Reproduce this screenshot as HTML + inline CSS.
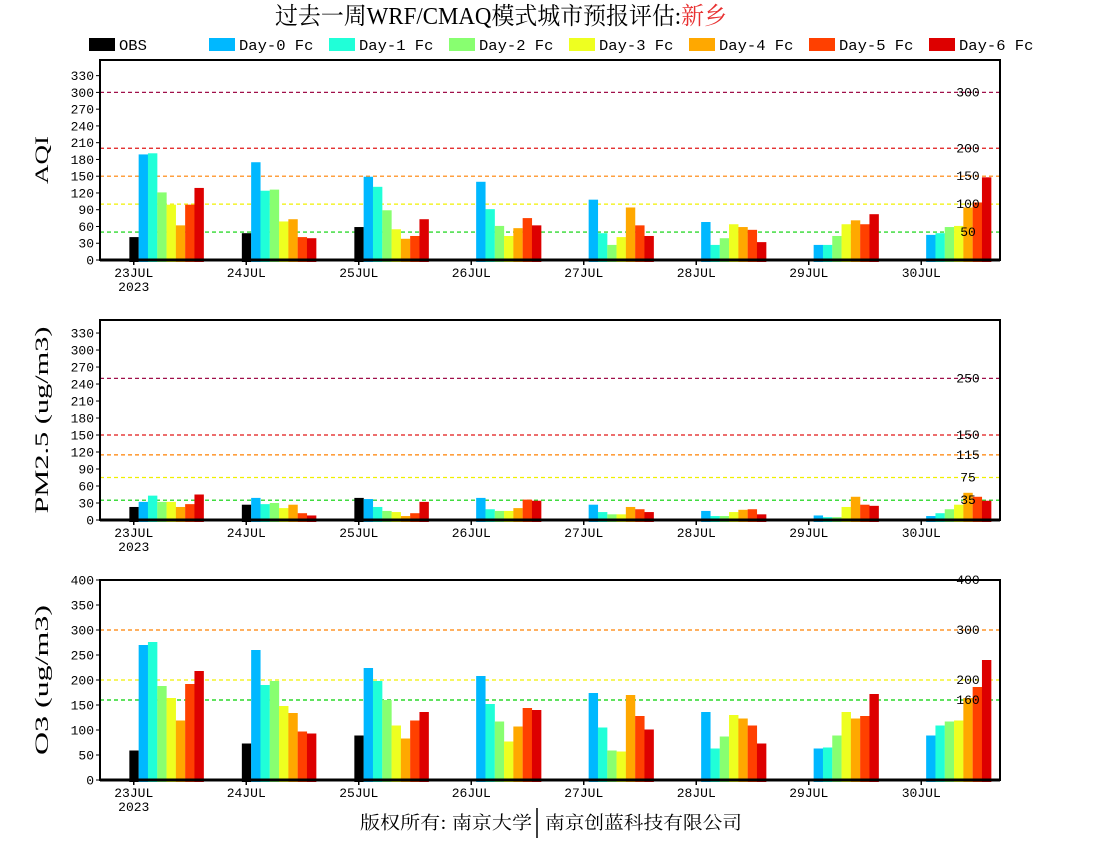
<!DOCTYPE html>
<html><head><meta charset="utf-8"><style>
body{margin:0;background:#fff;}
svg{display:block;}
text{font-family:"Liberation Mono","DejaVu Sans Mono",monospace;}
</style></head><body>
<svg id="c" width="1100" height="850" xmlns="http://www.w3.org/2000/svg">
<text x="275" y="24" font-size="24" textLength="452" lengthAdjust="spacingAndGlyphs" style="font-family:'Liberation Serif','Noto Serif CJK SC',serif">过去一周WRF/CMAQ模式城市预报评估:<tspan fill="#e83030">新乡</tspan></text>
<g id="legend"></g>
<g id="panels"></g>
<text x="360" y="829" font-size="18" textLength="172" lengthAdjust="spacingAndGlyphs" style="font-family:'Noto Serif CJK SC',serif">版权所有: 南京大学</text>
<line x1="537" y1="808" x2="537" y2="838" stroke="#000" stroke-width="1.5"/>
<text x="545" y="829" font-size="18" textLength="197" lengthAdjust="spacingAndGlyphs" style="font-family:'Noto Serif CJK SC',serif">南京创蓝科技有限公司</text>
</svg>
<script>
const days = ["23JUL","24JUL","25JUL","26JUL","27JUL","28JUL","29JUL","30JUL"];
const seriesNames = ["OBS","Day-0 Fc","Day-1 Fc","Day-2 Fc","Day-3 Fc","Day-4 Fc","Day-5 Fc","Day-6 Fc"];
const seriesColors = ["#000000","#00b8ff","#20ffd8","#88ff70","#eeff20","#ffa800","#ff4000","#dd0000"];
const aqiObs  = [41,48,59,null,null,null,null,null];
const aqiD0 = [189,175,149,140,108,68,27,45];
const aqiD1 = [191,124,131,91,48,27,27,48];
const aqiD2 = [121,126,89,61,27,39,43,59];
const aqiD3 = [99,69,55,43,41,64,64,61];
const aqiD4 = [62,73,38,57,94,59,71,94];
const aqiD5 = [99,41,43,75,62,54,64,103];
const aqiD6 = [129,39,73,62,43,32,82,148];
const pmObs = [23,27,39,null,null,null,null,null];
const pmD0 = [32,39,37,39,27,16,8,7];
const pmD1 = [43,28,23,19,14,7,5,12];
const pmD2 = [32,30,16,16,10,7,5,19];
const pmD3 = [32,21,14,16,10,14,23,27];
const pmD4 = [23,27,7,21,23,18,41,48];
const pmD5 = [28,12,12,36,19,19,27,41];
const pmD6 = [45,8,32,34,14,10,25,34];
const o3Obs = [59,73,89,null,null,null,null,null];
const o3D0 = [270,260,224,208,174,136,63,89];
const o3D1 = [276,190,198,152,105,63,65,109];
const o3D2 = [188,198,160,117,59,87,89,117];
const o3D3 = [164,148,109,77,57,130,136,119];
const o3D4 = [119,134,83,107,170,123,123,164];
const o3D5 = [192,97,119,144,128,109,128,186];
const o3D6 = [218,93,136,140,101,73,172,240];
const aqiTicks = [0,30,60,90,120,150,180,210,240,270,300,330];
const pmTicks = [0,30,60,90,120,150,180,210,240,270,300,330];
const o3Ticks = [0,50,100,150,200,250,300,350,400];
const aqiRefs = [300,200,150,100,50];
const pmRefs = [250,150,115,75,35];
const o3Refs = [400,300,200,160];
const refColors = ["#a0104a","#e01818","#ff8000","#f0f000","#00d000"];
const o3RefColors = ["#e01818","#ff8000","#f0f000","#00d000"];

const NS="http://www.w3.org/2000/svg";
function mk(tag,attrs,parent){const e=document.createElementNS(NS,tag);for(const k in attrs)e.setAttribute(k,attrs[k]);parent.appendChild(e);return e;}
const root=document.getElementById('panels');
const L=100,R=1000;
function xDay(i){return L+(R-L)/8*(i+0.3);}

const panels=[
 {name:"aqi",title:"AQI",tl:48,top:60,bot:260,max:358,ticks:aqiTicks,refs:aqiRefs,rc:refColors,data:[aqiObs,aqiD0,aqiD1,aqiD2,aqiD3,aqiD4,aqiD5,aqiD6]},
 {name:"pm25",title:"PM2.5 (ug/m3)",tl:187,top:320,bot:520,max:353,ticks:pmTicks,refs:pmRefs,rc:refColors,data:[pmObs,pmD0,pmD1,pmD2,pmD3,pmD4,pmD5,pmD6]},
 {name:"o3",title:"O3 (ug/m3)",tl:150,top:580,bot:780,max:400,ticks:o3Ticks,refs:o3Refs,rc:o3RefColors,data:[o3Obs,o3D0,o3D1,o3D2,o3D3,o3D4,o3D5,o3D6]}
];

const lg=document.getElementById('legend');
seriesNames.forEach((n,i)=>{
  const x=89+i*120;
  const r=mk('rect',{x:x,y:38,width:26,height:13,fill:seriesColors[i]},lg);
  
  
  const t=mk('text',{x:x+30,y:50,'font-size':15,textLength:(n.length*9.3),lengthAdjust:'spacingAndGlyphs'},lg);
  t.textContent=n;
  
  
});

panels.forEach(p=>{
  const g=mk('g',{},root);
  
  
  const y=v=>p.bot-(v/p.max)*(p.bot-p.top);
  p.refs.forEach((v,k)=>{
    const ln=mk('line',{x1:L,x2:R,y1:y(v),y2:y(v),stroke:p.rc[k],'stroke-width':1.2,'stroke-dasharray':'4,3'},g);
    
    
  });
  p.data.forEach((arr,s)=>{
    arr.forEach((v,i)=>{
      if(v==null)return;
      const bx=xDay(i)-4.4+s*9.3;
      const b=mk('rect',{x:bx,y:y(v),width:9.4,height:p.bot+2-y(v),fill:seriesColors[s]},g);
      
      
    });
  });
  p.refs.forEach((v,k)=>{
    const t=mk('text',{x:968,y:y(v)+4,'font-size':13,'text-anchor':'middle'},g);
    t.textContent=v;
    
    
  });
  const fr=mk('rect',{x:L,y:p.top,width:R-L,height:p.bot-p.top,fill:'none',stroke:'#000','stroke-width':2},g);
  
  
  mk('line',{x1:L,x2:R,y1:p.bot,y2:p.bot,stroke:'#000','stroke-width':3},g);
  p.ticks.forEach(v=>{
    mk('line',{x1:L-4,x2:L,y1:y(v),y2:y(v),stroke:'#000','stroke-width':1},g);
    const t=mk('text',{x:L-6,y:y(v)+4.5,'font-size':13,'text-anchor':'end'},g);
    t.textContent=v;
    
    
  });
  days.forEach((d,i)=>{
    mk('line',{x1:xDay(i),x2:xDay(i),y1:p.bot,y2:p.bot+5,stroke:'#000','stroke-width':1.5},g);
    const t=mk('text',{x:xDay(i),y:p.bot+17,'font-size':13,'text-anchor':'middle'},g);
    t.textContent=d;
    
    
  });
  const yr=mk('text',{x:xDay(0),y:p.bot+31,'font-size':13,'text-anchor':'middle'},g);
  yr.textContent="2023";
  
  
  const cy=(p.top+p.bot)/2;
  const at=mk('text',{x:48,y:cy,'font-size':19,'text-anchor':'middle',textLength:p.tl,lengthAdjust:'spacingAndGlyphs',transform:'rotate(-90 48 '+cy+')',style:"font-family:'Liberation Serif',serif"},g);
  at.textContent=p.title;
  
  
});
</script>
</body></html>
